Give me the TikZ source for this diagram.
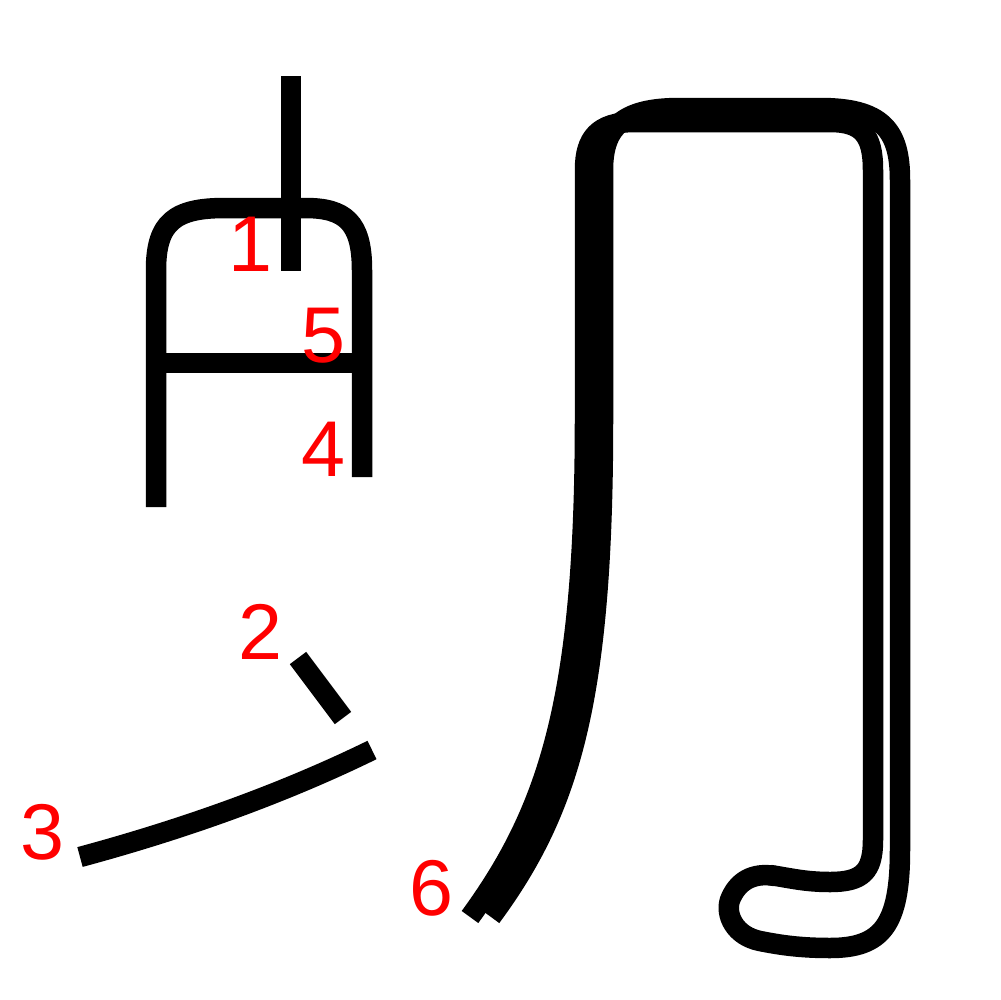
\documentclass[tikz,border=0pt]{standalone}
\usepackage{fontspec}
\setmainfont{Liberation Sans}
\usepackage{tikz}

\begin{document}
\begin{tikzpicture}[
  x=0.1mm, y=-0.1mm,
  kstroke/.style={draw=black, line width=2.05mm, line cap=butt, line join=round},
  num/.style={text=red, inner sep=0pt, font=\fontsize{22.5}{22.5}\selectfont},
]
\useasboundingbox (0,0) rectangle (1000,1000);

% strokes of the left part
\draw[kstroke] (291,76) -- (291,271);
\draw[kstroke] (298,658) -- (343,718);
\draw[kstroke] (80,857) .. controls (180,830) and (280,795) .. (372,750);
\draw[kstroke] (156,507) -- (156,270) .. controls (156,222) and (175,208) .. (225,208)
  -- (305,208) .. controls (345,208) and (362,222) .. (362,270) -- (362,477);
\draw[kstroke] (156,363) -- (362,363);

% big stroke, drawn twice
\draw[kstroke] (470,917) .. controls (548,810) and (585,700) .. (585,420) -- (585,170)
  .. controls (585,138) and (598,122) .. (635,122) -- (830,122)
  .. controls (862,122) and (873,135) .. (873,170) -- (873,840)
  .. controls (873,872) and (862,882) .. (830,882)
  .. controls (805,882) and (790,878) .. (770,875);
\draw[kstroke] (491,917) .. controls (570,810) and (603,700) .. (603,420) -- (603,170)
  .. controls (603,125) and (625,108) .. (680,108) -- (820,108)
  .. controls (882,108) and (900,130) .. (900,180) -- (900,850)
  .. controls (900,925) and (882,948) .. (830,948)
  .. controls (800,948) and (780,945) .. (760,941)
  .. controls (735,936) and (725,915) .. (730,900)
  .. controls (737,882) and (752,872) .. (775,876);

% stroke numbers
\node[num] (n1) at (250,244) {1};
\node[num] (n2) at (260,632) {2};
\node[num] (n3) at (42,832) {3};
\node[num] (n4) at (323,449) {4};
\node[num] (n5) at (323,336) {5};
\node[num] (n6) at (431,888) {6};
\end{tikzpicture}
\end{document}
